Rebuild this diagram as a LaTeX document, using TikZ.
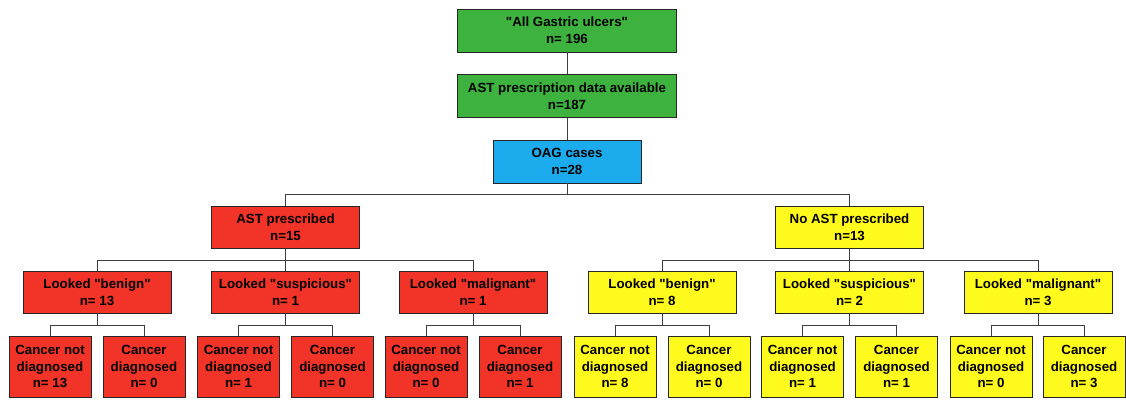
\documentclass[tikz,border=0pt]{standalone}
\usepackage{fontspec}
\setmainfont{Liberation Sans}[Ligatures=TeXOff]
\definecolor{gbox}{RGB}{62,178,62}
\definecolor{bbox}{RGB}{28,172,238}
\definecolor{rbox}{RGB}{242,52,40}
\definecolor{ybox}{RGB}{255,250,30}
\definecolor{edge}{RGB}{60,60,70}
\tikzset{
  box/.style={draw=black!85, line width=0.9pt, inner sep=0pt, align=center,
    font=\bfseries\fontsize{13.3}{16.7}\selectfont},
  wide/.style={box, minimum width=219, minimum height=43},
  mid/.style={box, minimum width=148, minimum height=42},
  leaf/.style={box, minimum width=82, minimum height=61},
  conn/.style={draw=edge, line width=0.9pt},
}
\begin{document}
\begin{tikzpicture}[x=1pt,y=-1pt]
\useasboundingbox (0,0) rectangle (1126,399);
% top chain
\node[wide, fill=gbox] (all) at (567,30.5) {"All Gastric ulcers"\\n= 196};
\node[wide, fill=gbox] (ast) at (567,96) {AST prescription data available\\n=187};
\node[mid, fill=bbox, minimum height=43] (oag) at (567,161.5) {OAG cases\\n=28};
% level 1
\node[mid, fill=rbox] (yes) at (285.5,227) {AST prescribed\\n=15};
\node[mid, fill=ybox] (no) at (849.5,227) {No AST prescribed\\n=13};
% level 2
\node[mid, fill=rbox] (rb) at (97,292) {Looked "benign"\\n= 13};
\node[mid, fill=rbox] (rs) at (285.5,292) {Looked "suspicious"\\n= 1};
\node[mid, fill=rbox] (rm) at (473,292) {Looked "malignant"\\n= 1};
\node[mid, fill=ybox] (yb) at (662,292) {Looked "benign"\\n= 8};
\node[mid, fill=ybox] (ys) at (849.5,292) {Looked "suspicious"\\n= 2};
\node[mid, fill=ybox] (ym) at (1038,292) {Looked "malignant"\\n= 3};
% leaves
\node[leaf, fill=rbox] (rb1) at (50,366.5) {Cancer not\\diagnosed\\n= 13};
\node[leaf, fill=rbox] (rb2) at (144,366.5) {Cancer\\diagnosed\\n= 0};
\node[leaf, fill=rbox] (rs1) at (238.5,366.5) {Cancer not\\diagnosed\\n= 1};
\node[leaf, fill=rbox] (rs2) at (332.5,366.5) {Cancer\\diagnosed\\n= 0};
\node[leaf, fill=rbox] (rm1) at (426,366.5) {Cancer not\\diagnosed\\n= 0};
\node[leaf, fill=rbox] (rm2) at (520,366.5) {Cancer\\diagnosed\\n= 1};
\node[leaf, fill=ybox] (yb1) at (615,366.5) {Cancer not\\diagnosed\\n= 8};
\node[leaf, fill=ybox] (yb2) at (709,366.5) {Cancer\\diagnosed\\n= 0};
\node[leaf, fill=ybox] (ys1) at (802.5,366.5) {Cancer not\\diagnosed\\n= 1};
\node[leaf, fill=ybox] (ys2) at (896.5,366.5) {Cancer\\diagnosed\\n= 1};
\node[leaf, fill=ybox] (ym1) at (991,366.5) {Cancer not\\diagnosed\\n= 0};
\node[leaf, fill=ybox] (ym2) at (1084,366.5) {Cancer\\diagnosed\\n= 3};
% connectors
\draw[conn] (all) -- (ast);
\draw[conn] (ast) -- (oag);
\foreach \c in {yes,no} \draw[conn] (oag.south) -- ++(0,11) -| (\c.north);
\foreach \c in {rb,rs,rm} \draw[conn] (yes.south) -- ++(0,12) -| (\c.north);
\foreach \c in {yb,ys,ym} \draw[conn] (no.south) -- ++(0,12) -| (\c.north);
\foreach \p in {rb,rs,rm,yb,ys,ym} {
  \draw[conn] (\p.south) -- ++(0,12) -| (\p1.north);
  \draw[conn] (\p.south) -- ++(0,12) -| (\p2.north);
}
\end{tikzpicture}
\end{document}
